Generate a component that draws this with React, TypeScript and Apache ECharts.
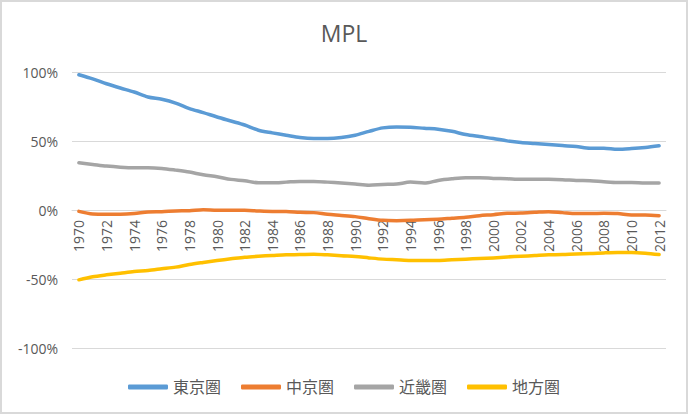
import { useEffect, useRef } from 'react';
import * as echarts from 'echarts';

const years = [
  '1970', '1971', '1972', '1973', '1974', '1975', '1976', '1977', '1978', '1979',
  '1980', '1981', '1982', '1983', '1984', '1985', '1986', '1987', '1988', '1989',
  '1990', '1991', '1992', '1993', '1994', '1995', '1996', '1997', '1998', '1999',
  '2000', '2001', '2002', '2003', '2004', '2005', '2006', '2007', '2008', '2009',
  '2010', '2011', '2012',
];

const tokyo = [
  98, 95, 91.5, 88.4, 85.5, 81.9, 80.2, 77.5, 73.5, 70.6,
  67.4, 64.5, 61.6, 57.8, 55.9, 54.2, 52.5, 51.8, 51.8, 52.5,
  54.2, 57, 59.5, 60.2, 60, 59.2, 58.5, 57, 54.7, 53.2,
  51.8, 50.1, 48.9, 48.2, 47.5, 46.7, 46, 44.8, 44.8, 44,
  44.5, 45.3, 46.5,
];

const chukyo = [
  -1, -2.9, -3.1, -3.1, -2.6, -1.4, -1.2, -0.7, -0.5, 0.2,
  -0.2, -0.2, -0.2, -0.7, -1, -1, -1.7, -1.9, -3.1, -3.9,
  -4.8, -6.3, -7.5, -7.7, -7.5, -7, -6.7, -6, -5.3, -4.1,
  -3.4, -2.4, -2.2, -1.7, -1.2, -1.9, -2.6, -2.6, -2.4, -2.6,
  -3.6, -3.6, -4.1,
];

const kinki = [
  34.2, 33, 31.8, 31, 30.6, 30.6, 30.1, 28.9, 27.5, 25.5,
  24.1, 22.2, 21.2, 19.7, 19.7, 20.2, 20.7, 20.7, 20.2, 19.5,
  18.8, 18, 18.5, 18.8, 20.2, 19.5, 21.4, 22.6, 23.4, 23.4,
  22.9, 22.6, 22.2, 22.2, 22.2, 22, 21.4, 21.2, 20.5, 20,
  20, 19.5, 19.5,
];

const chiho = [
  -50.6, -48.4, -47, -45.8, -44.6, -43.8, -42.6, -41.4, -39.5, -38,
  -36.6, -35.4, -34.2, -33.5, -33, -32.5, -32.3, -32, -32.5, -33.2,
  -33.7, -34.7, -35.6, -36.1, -36.6, -36.6, -36.6, -36.1, -35.6, -35.2,
  -34.7, -34, -33.5, -33, -32.5, -32.3, -31.8, -31.6, -31.1, -30.8,
  -30.8, -31.3, -32.3,
];

const seriesNames = ['東京圏', '中京圏', '近畿圏', '地方圏'];
const seriesColors = ['#5B9BD5', '#ED7D31', '#A5A5A5', '#FFC000'];

const FONT = "'Open Sans', 'Noto Sans CJK JP', sans-serif";

const GRID_TOP = 70;
const GRID_BOTTOM = 64;
const CHART_H = 410;

export default function App() {
  const chartRef = useRef<HTMLDivElement>(null);

  useEffect(() => {
    if (!chartRef.current) return;
    const chart = echarts.init(chartRef.current, null, { renderer: 'svg' });

    const values = [tokyo, chukyo, kinki, chiho];
    // y range is symmetric, so the zero line sits halfway up the grid
    const zeroOffset = -(CHART_H - GRID_TOP - GRID_BOTTOM) / 2;

    chart.setOption({
      animation: false,
      textStyle: { fontFamily: FONT },
      title: {
        text: 'MPL',
        left: 'center',
        top: 14,
        textStyle: { fontSize: 23, fontWeight: 'normal', color: '#595959', fontFamily: FONT },
      },
      legend: {
        data: seriesNames,
        left: 'center',
        top: 372,
        icon: 'roundRect',
        itemWidth: 40,
        itemHeight: 5,
        itemGap: 20,
        textStyle: { fontSize: 16, color: '#595959', fontFamily: FONT },
      },
      grid: { left: 70, right: 20, top: GRID_TOP, bottom: GRID_BOTTOM },
      xAxis: {
        type: 'category',
        data: years,
        boundaryGap: true,
        position: 'bottom',
        offset: zeroOffset,
        axisLine: { onZero: false, lineStyle: { color: '#D9D9D9', width: 1 } },
        axisTick: { show: false },
        axisLabel: {
          interval: 1,
          rotate: 90,
          margin: 10,
          fontSize: 14,
          color: '#595959',
          fontFamily: FONT,
        },
      },
      yAxis: {
        type: 'value',
        min: -100,
        max: 100,
        interval: 50,
        axisLine: { show: false },
        axisTick: { show: false },
        splitLine: { lineStyle: { color: '#D9D9D9', width: 1 } },
        axisLabel: {
          formatter: '{value}%',
          fontSize: 14,
          margin: 14,
          color: '#595959',
          fontFamily: FONT,
        },
      },
      series: seriesNames.map((name, i) => ({
        name,
        type: 'line',
        data: values[i],
        smooth: 0.3,
        symbol: 'none',
        showSymbol: false,
        color: seriesColors[i],
        lineStyle: { color: seriesColors[i], width: 3.5, cap: 'round', join: 'round' },
      })),
    });

    return () => {
      chart.dispose();
    };
  }, []);

  return (
    <div
      style={{
        position: 'absolute',
        left: 0,
        top: 0,
        width: 688,
        height: 414,
        border: '2px solid #D9D9D9',
        boxSizing: 'border-box',
        background: '#ffffff',
      }}
    >
      <div ref={chartRef} style={{ width: 684, height: CHART_H }} />
    </div>
  );
}
